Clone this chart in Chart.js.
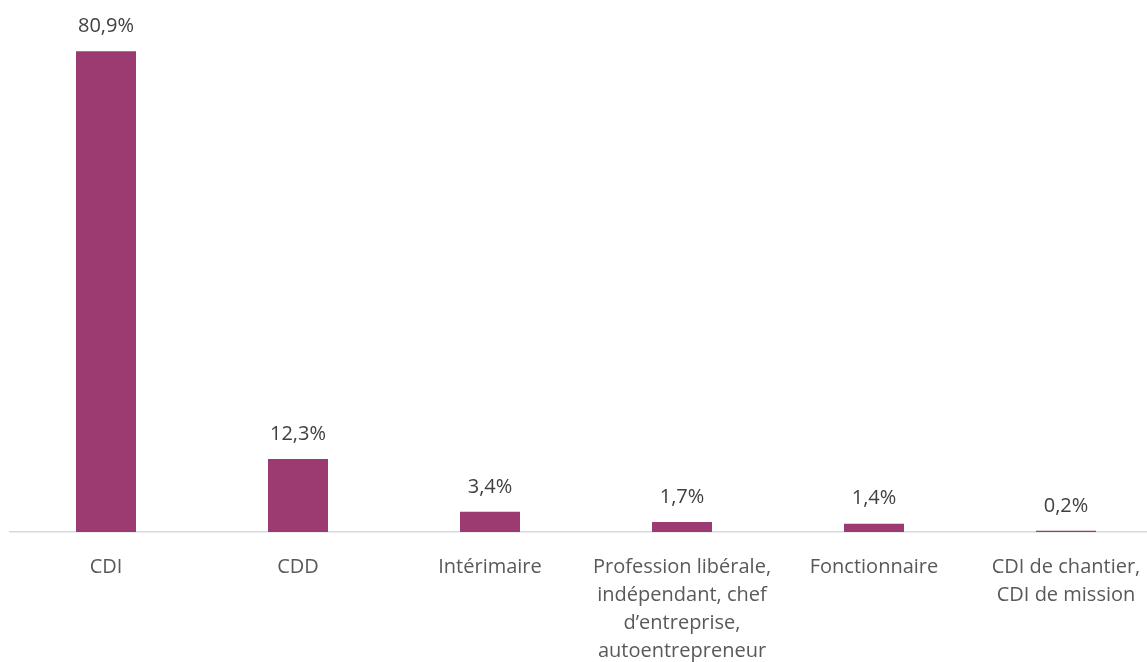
<!DOCTYPE html>
<html>
<head>
<meta charset="utf-8">
<script src="https://cdn.jsdelivr.net/npm/chart.js@4/dist/chart.umd.min.js"></script>
<style>
html,body{margin:0;padding:0;background:#fff;overflow:hidden;}
#wrap{width:1162px;height:662px;position:relative;}
</style>
</head>
<body>
<div id="wrap"><canvas id="myChart"></canvas></div>
<script>
// categories and values
var categories=[
    'CDI',
    'CDD',
    'Intérimaire',
    ['Profession libérale,','indépendant, chef','d\u2019entreprise,','autoentrepreneur'],
    'Fonctionnaire',
    ['CDI de chantier,','CDI de mission']
];
var shares=[80.9,12.3,3.4,1.7,1.4,0.2];
var valueLabels=['80,9%','12,3%','3,4%','1,7%','1,4%','0,2%'];

var barColor='#9c3b71';
var fontName='"Open Sans", "Noto Sans", sans-serif';

// little plugin to write the value over each bar
var valuePlugin={
    id:'valueLabels',
    afterDatasetsDraw:function(chart){
        var ctx=chart.ctx;
        var meta=chart.getDatasetMeta(0);
        ctx.save();
        ctx.font='20px '+fontName;
        ctx.fillStyle='#404040';
        ctx.textAlign='center';
        ctx.textBaseline='middle';
        for(var i=0;i<meta.data.length;i++){
            var bar=meta.data[i];
            ctx.fillText(valueLabels[i],bar.x,bar.y-25);
        }
        ctx.restore();
    }
};

var chartContainer=document.getElementById('myChart');
var myChart=new Chart(chartContainer,{
    type:'bar',
    data:{
        labels:categories,
        datasets:[{
            label:'Part',
            data:shares,
            backgroundColor:barColor,
            borderWidth:0,
            barPercentage:0.3125,
            categoryPercentage:1
        }]
    },
    options:{
        responsive:true,
        maintainAspectRatio:false,
        animation:false,
        layout:{padding:{left:10,right:0,top:27,bottom:0}},
        plugins:{
            legend:{display:false},
            tooltip:{enabled:false}
        },
        scales:{
            x:{
                grid:{display:false},
                border:{display:true,color:'#d9d9d9',width:1.5},
                ticks:{
                    color:'#595959',
                    font:{family:fontName,size:20,lineHeight:1.4},
                    padding:13,
                    autoSkip:false,
                    maxRotation:0
                },
                afterFit:function(scale){scale.height=130;}
            },
            y:{
                display:false,
                min:0,
                max:85
            }
        }
    },
    plugins:[valuePlugin]
});
</script>
</body>
</html>
